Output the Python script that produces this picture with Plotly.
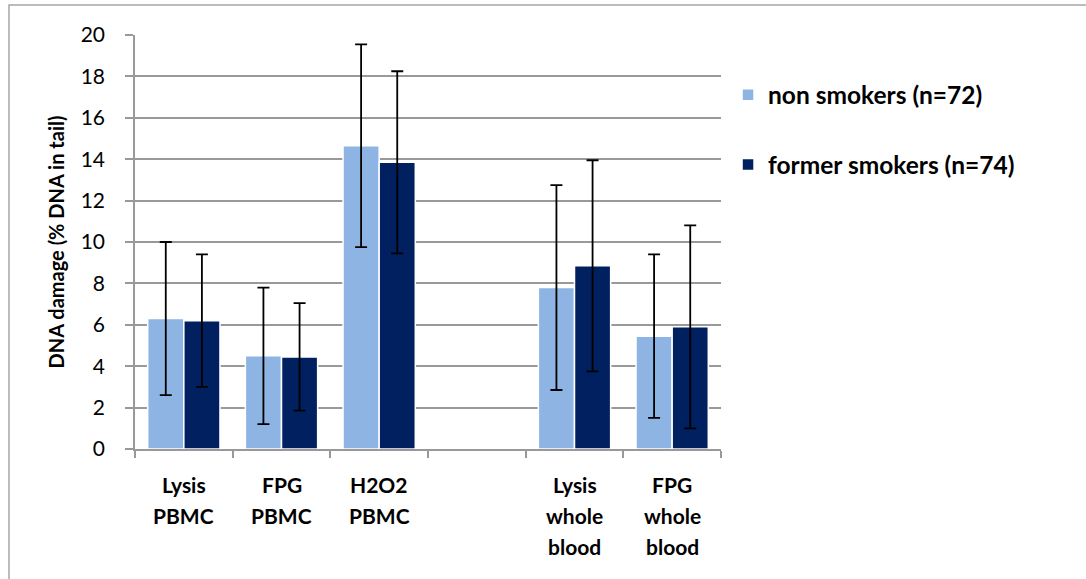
import plotly.graph_objects as go

categories = ["Lysis<br>PBMC", "FPG<br>PBMC", "H2O2<br>PBMC", " ", "Lysis<br>whole<br>blood", "FPG<br>whole<br>blood"]
cat_ids = ["c1", "c2", "c3", "c4", "c5", "c6"]

non_smokers = [6.3, 4.5, 14.65, None, 7.8, 5.45]
non_smokers_sd = [3.7, 3.3, 4.9, None, 4.95, 3.95]
former_smokers = [6.2, 4.45, 13.85, None, 8.85, 5.9]
former_smokers_sd = [3.2, 2.6, 4.4, None, 5.1, 4.9]

series_names = ["non smokers (n=72)", "former smokers (n=74)"]
colors = ["#8EB4E3", "#002060"]

FONT = "Lato, Carlito, Calibri, 'Open Sans', sans-serif"

fig = go.Figure()
for name, vals, sd, col, grp in [
    (series_names[0], non_smokers, non_smokers_sd, colors[0], "g1"),
    (series_names[1], former_smokers, former_smokers_sd, colors[1], "g2"),
]:
    fig.add_trace(go.Bar(
        x=cat_ids, y=vals, name=name, legendgroup=grp,
        marker=dict(color=col, line=dict(color="white", width=1.5)),
        error_y=dict(type="data", array=sd, visible=True, color="black",
                     thickness=1.8, width=6),
    ))

# category labels as annotations (multi-line, wide spacing)
for cid, lab in zip(cat_ids, categories):
    for i, line in enumerate(lab.split("<br>")):
        if not line.strip():
            continue
        fig.add_annotation(
            x=cid, xref="x", y=0, yref="paper", yanchor="top",
            yshift=-21 - 31 * i, text="<b>%s</b>" % line, showarrow=False,
            font=dict(family=FONT, size=21, color="black"),
        )

W, H = 1086, 579
L, R, T, B = 135, 365, 35, 130
pw, ph = W - L - R, H - T - B

# outer chart border
fig.add_shape(type="rect", xref="paper", yref="paper",
              x0=(9 - L) / pw, x1=(1095 - L) / pw,
              y0=-(H + 10 - (T + ph)) / ph, y1=(T + ph - 5) / ph,
              line=dict(color="#A6A6A6", width=1.5), fillcolor="rgba(0,0,0,0)",
              layer="below")

fig.update_layout(
    width=W, height=H,
    margin=dict(l=L, r=R, t=T, b=B, pad=0),
    paper_bgcolor="white", plot_bgcolor="white",
    barmode="group", bargap=0.26, bargroupgap=0,
    font=dict(family=FONT, size=18, color="black"),
    legend=dict(
        x=1.012, xanchor="left", y=0.91, yanchor="top",
        xref="paper", yref="paper",
        font=dict(family=FONT, size=24.5, color="black", weight="bold"),
        tracegroupgap=35, traceorder="grouped",
        itemwidth=30, bgcolor="rgba(0,0,0,0)",
    ),
    xaxis=dict(
        type="category", showticklabels=False,
        tickson="boundaries", ticks="outside", ticklen=7, tickcolor="#999999",
        tickwidth=1.5,
        showline=True, linecolor="#999999", linewidth=1.5,
        showgrid=False, range=[-0.5, 5.5],
    ),
    yaxis=dict(
        range=[0, 20], dtick=2, tick0=0,
        ticks="outside", ticklen=8, tickcolor="#999999", tickwidth=1.5,
        ticklabelstandoff=16,
        showline=True, linecolor="#999999", linewidth=1.5,
        showgrid=True, gridcolor="#999999", gridwidth=1.5,
        zeroline=False,
        tickfont=dict(family=FONT, size=21, color="black"),
        title=dict(text="<b>DNA damage (% DNA in tail)</b>", standoff=11,
                   font=dict(family=FONT, size=20, color="black")),
    ),
)

fig.write_html("out.html")
